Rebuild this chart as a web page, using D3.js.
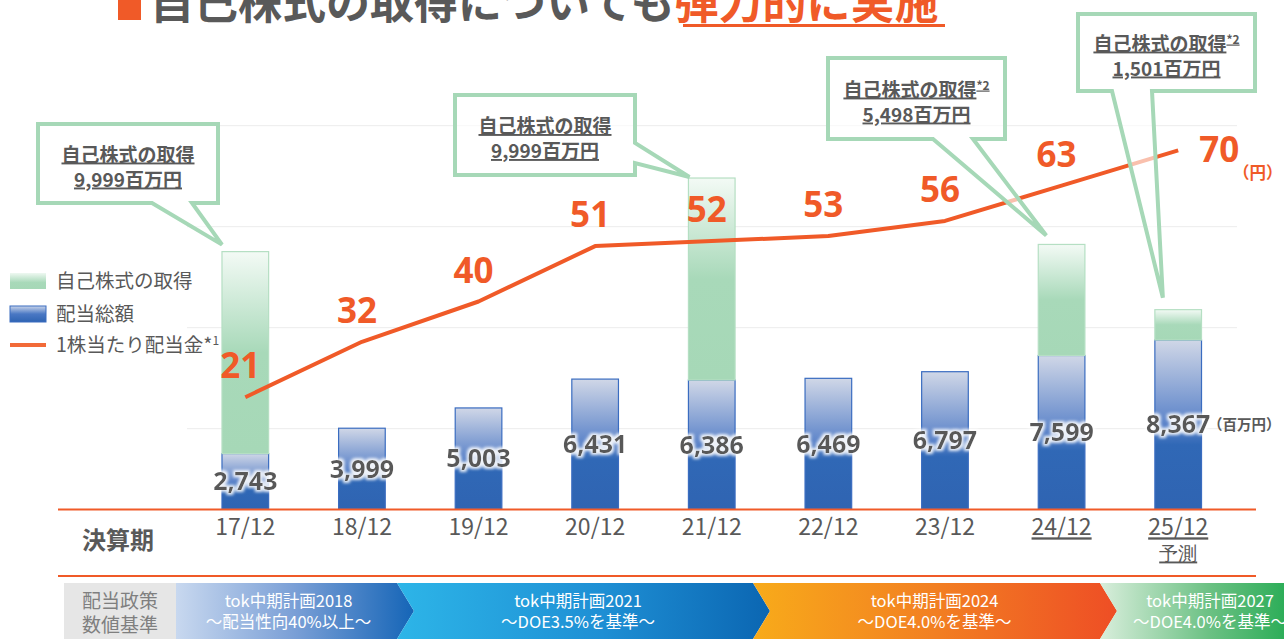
<!DOCTYPE html>
<html>
<head>
<meta charset="utf-8">
<script src="https://cdn.jsdelivr.net/npm/d3@7"></script>
<style>
  body { margin: 0; background: #fff; }
  svg { display: block; font-family: "Noto Sans CJK JP", "Noto Sans", sans-serif; }
</style>
</head>
<body>
<svg id="chart" width="1284" height="639"></svg>
<script>
// data
const categories = ['17/12', '18/12', '19/12', '20/12', '21/12', '22/12', '23/12', '24/12', '25/12'];
const dividendTotal = [2743, 3999, 5003, 6431, 6386, 6469, 6797, 7599, 8367];
const buyback = [9999, 0, 0, 0, 9999, 0, 0, 5498, 1501];
const dps = [21, 32, 40, 51, 52, 53, 56, 63, 70];
const gridValues = [4000, 9000, 14000, 19000];
const planNames = ['tok中期計画2018', 'tok中期計画2021', 'tok中期計画2024', 'tok中期計画2027'];
const planTargets = ['～配当性向40%以上～', '～DOE3.5%を基準～', '～DOE4.0%を基準～', '～DOE4.0%を基準～'];

const GREY = '#595959', ORANGE = '#f05a28', GREEN = '#a6d8b7';

const svg = d3.select('#chart');
const defs = svg.append('defs');

function grad(id, stops, horizontal) {
    const g = defs.append('linearGradient').attr('id', id)
        .attr('x1', 0).attr('y1', 0).attr('x2', horizontal ? 1 : 0).attr('y2', horizontal ? 0 : 1);
    stops.forEach(s => g.append('stop').attr('offset', s[0]).attr('stop-color', s[1]));
}
grad('gBlue', [[0, '#d0d7e7'], [0.5, '#5b83c9'], [0.62, '#3068b6'], [1, '#2f64b2']]);
grad('gGreen', [[0, '#f3faf5'], [0.5, '#a8d9b9'], [1, '#a6d8b7']]);
grad('gLegBlue', [[0, '#c9d4ea'], [0.5, '#4a78c4'], [1, '#2f64b2']]);
grad('gLegGreen', [[0, '#eef8f1'], [0.6, '#a8d9b9'], [1, '#a6d8b7']]);
grad('p1', [[0, '#c8d8ef'], [0.5, '#7a9fd6'], [1, '#1565b7']], true);
grad('p2', [[0, '#2db5e8'], [0.55, '#1e8fd4'], [1, '#0b66b2']], true);
grad('p3', [[0, '#f8ab1a'], [0.5, '#f27f22'], [1, '#ee4e25']], true);
grad('p4', [[0, '#d9eedc'], [0.5, '#6cc184'], [1, '#12a546']], true);

const glow = defs.append('filter').attr('id', 'glow').attr('x', '-20%').attr('y', '-40%').attr('width', '140%').attr('height', '180%');
glow.append('feMorphology').attr('in', 'SourceAlpha').attr('operator', 'dilate').attr('radius', 2).attr('result', 'd');
glow.append('feGaussianBlur').attr('in', 'd').attr('stdDeviation', 1.6).attr('result', 'b');
glow.append('feFlood').attr('flood-color', '#fff').attr('flood-opacity', 0.9);
glow.append('feComposite').attr('in2', 'b').attr('operator', 'in').attr('result', 'w');
const mg = glow.append('feMerge');
mg.append('feMergeNode').attr('in', 'w');
mg.append('feMergeNode').attr('in', 'SourceGraphic');

// scales
const x = d3.scaleBand().domain(categories).range([187, 1236.5]).paddingInner(0.6).paddingOuter(0.3);
const yBar = d3.scaleLinear().domain([0, 20000]).range([509, 105]);
const yLine = d3.scaleLinear().domain([0, 80]).range([503, 100]);

// title (cut at top, as on the slide)
svg.append('rect').attr('x', 118).attr('y', -4).attr('width', 23).attr('height', 24).attr('fill', ORANGE);
const title = svg.append('text').attr('x', 150).attr('y', 19)
    .attr('font-size', 44).attr('font-weight', 700);
title.append('tspan').attr('fill', GREY).text('自己株式の取得についても');
title.append('tspan').attr('fill', ORANGE).text('弾力的に実施');
svg.append('rect').attr('x', 683).attr('y', 24).attr('width', 262).attr('height', 3).attr('fill', ORANGE);

// grid
svg.append('g').selectAll('line').data(gridValues).enter().append('line')
    .attr('x1', 187).attr('x2', 1237)
    .attr('y1', d => yBar(d) + 0.5).attr('y2', d => yBar(d) + 0.5)
    .attr('stroke', '#ececec').attr('stroke-width', 1);

// bars
const bars = svg.append('g');
bars.selectAll('.div').data(categories).enter().append('rect')
    .attr('x', d => x(d)).attr('width', x.bandwidth())
    .attr('y', (d, i) => yBar(dividendTotal[i]))
    .attr('height', (d, i) => yBar(0) - yBar(dividendTotal[i]))
    .attr('fill', 'url(#gBlue)').attr('stroke', '#3a6cc0').attr('stroke-width', 1.2);
bars.selectAll('.bb').data(categories.filter((d, i) => buyback[i] > 0)).enter().append('rect')
    .attr('x', d => x(d)).attr('width', x.bandwidth())
    .attr('y', d => { const i = categories.indexOf(d); return yBar(dividendTotal[i] + buyback[i]); })
    .attr('height', d => { const i = categories.indexOf(d); return yBar(dividendTotal[i]) - yBar(dividendTotal[i] + buyback[i]); })
    .attr('fill', 'url(#gGreen)').attr('stroke', '#b5dfc3').attr('stroke-width', 1.2);

// x axis
svg.append('line').attr('x1', 58).attr('x2', 1256).attr('y1', 509.5).attr('y2', 509.5)
    .attr('stroke', ORANGE).attr('stroke-width', 2);
svg.append('line').attr('x1', 58).attr('x2', 1256).attr('y1', 576).attr('y2', 576)
    .attr('stroke', ORANGE).attr('stroke-width', 2);

const xAxis = svg.append('g').attr('transform', 'translate(0,510)')
    .call(d3.axisBottom(x).tickSize(0).tickPadding(9));
xAxis.select('.domain').remove();
xAxis.selectAll('text')
    .attr('font-family', '"Noto Sans CJK JP", sans-serif')
    .attr('font-size', 23).attr('fill', GREY)
    .attr('text-decoration', d => (d === '24/12' || d === '25/12') ? 'underline' : null);
xAxis.selectAll('.tick').filter(d => d === '25/12').append('text')
    .attr('y', 37).attr('dy', '0.71em').attr('text-anchor', 'middle')
    .attr('font-size', 19).attr('fill', GREY).attr('text-decoration', 'underline')
    .text('予測');
svg.append('text').attr('x', 82).attr('y', 549).attr('font-size', 24).attr('font-weight', 700)
    .attr('fill', GREY).text('決算期');

// dividend per share line
const line = d3.line().x((d, i) => x(categories[i]) + x.bandwidth() / 2).y(d => yLine(d));
svg.append('path').datum(dps).attr('d', line)
    .attr('fill', 'none').attr('stroke', ORANGE).attr('stroke-width', 4).attr('stroke-linejoin', 'round');

// callouts
const callouts = [
    { i: 0, star: false, box: [38, 124, 180, 79], side: 'bottom', base: [152, 192], tip: [0, -7] },
    { i: 4, star: false, box: [455, 95, 180, 80], side: 'right', base: [143, 163], tip: [1, -1] },
    { i: 7, star: true, box: [828, 58, 177, 81], side: 'bottom', base: [933, 973], tip: [8, -9] },
    { i: 8, star: true, box: [1078, 14, 177, 77], side: 'bottom', base: [1112, 1152], tip: [8, -12] }
];
const fmt = d3.format(',');
const cg = svg.append('g');
callouts.forEach(c => {
    const cat = categories[c.i];
    const tx = x(cat) + c.tip[0];
    const ty = yBar(dividendTotal[c.i] + buyback[c.i]) + c.tip[1];
    const [bx, by, bw, bh] = c.box;
    let p;
    if (c.side === 'bottom') {
        p = `M${bx},${by}H${bx + bw}V${by + bh}H${c.base[1]}L${tx},${ty}L${c.base[0]},${by + bh}H${bx}Z`;
    } else {
        p = `M${bx},${by}H${bx + bw}V${c.base[0]}L${tx},${ty}L${bx + bw},${c.base[1]}V${by + bh}H${bx}Z`;
    }
    cg.append('path').attr('d', p).attr('fill', '#fff').attr('fill-opacity', 0.62)
        .attr('stroke', GREEN).attr('stroke-width', 4).attr('stroke-linejoin', 'miter');
    const cx = bx + bw / 2;
    const t1 = cg.append('text').attr('x', cx).attr('y', by + bh / 2 - 2).attr('text-anchor', 'middle')
        .attr('font-size', 19).attr('font-weight', 700).attr('fill', GREY).attr('text-decoration', 'underline');
    t1.append('tspan').text('自己株式の取得');
    if (c.star) t1.append('tspan').attr('font-size', 12).attr('dy', -7).text('*2');
    cg.append('text').attr('x', cx).attr('y', by + bh / 2 + 23).attr('text-anchor', 'middle')
        .attr('font-size', 19).attr('font-weight', 700).attr('fill', GREY).attr('text-decoration', 'underline')
        .text(fmt(buyback[c.i]) + '百万円');
});

// bar value labels
svg.append('g').selectAll('text').data(categories).enter().append('text')
    .attr('x', d => x(d) + x.bandwidth() / 2)
    .attr('y', (d, i) => (yBar(0) + yBar(dividendTotal[i])) / 2)
    .attr('dy', '0.36em').attr('text-anchor', 'middle')
    .attr('font-family', '"Noto Sans", sans-serif').attr('font-weight', 700).attr('font-size', 25)
    .attr('fill', GREY).attr('filter', 'url(#glow)')
    .text((d, i) => fmt(dividendTotal[i]));
svg.append('text').attr('x', 1208).attr('y', 430).attr('font-size', 14.5).attr('font-weight', 700)
    .attr('fill', GREY).text('（百万円）');

// dps labels
svg.append('g').selectAll('text').data(dps).enter().append('text')
    .attr('x', (d, i) => x(categories[i]) + x.bandwidth() / 2 + (i === dps.length - 1 ? 21 : -5))
    .attr('y', (d, i) => yLine(d) + (i === dps.length - 1 ? 12 : -19))
    .attr('text-anchor', (d, i) => i === dps.length - 1 ? 'start' : 'middle')
    .attr('font-family', '"Noto Sans", sans-serif').attr('font-weight', 700).attr('font-size', 35)
    .attr('fill', ORANGE).text(d => d);
svg.append('text').attr('x', 1233).attr('y', 179).attr('font-size', 16.5).attr('font-weight', 700)
    .attr('fill', ORANGE).text('（円）');

// legend
const leg = svg.append('g').attr('font-size', 19.5).attr('fill', GREY);
leg.append('rect').attr('x', 10).attr('y', 273).attr('width', 36).attr('height', 16).attr('fill', 'url(#gLegGreen)');
leg.append('text').attr('x', 56).attr('y', 288).text('自己株式の取得');
leg.append('rect').attr('x', 10).attr('y', 306).attr('width', 36).attr('height', 16)
    .attr('fill', 'url(#gLegBlue)').attr('stroke', '#3a6cc0').attr('stroke-width', 1);
leg.append('text').attr('x', 56).attr('y', 321).text('配当総額');
leg.append('line').attr('x1', 10).attr('x2', 46).attr('y1', 345).attr('y2', 345)
    .attr('stroke', '#f26a38').attr('stroke-width', 4);
const lt = leg.append('text').attr('x', 56).attr('y', 352);
lt.append('tspan').text('1株当たり配当金*');
lt.append('tspan').attr('font-size', 12).attr('dy', -7).text('1');

// policy band
const band = svg.append('g');
band.append('rect').attr('x', 64).attr('y', 583).attr('width', 112).attr('height', 56).attr('fill', '#e6e6e6');
band.append('text').attr('x', 120).attr('y', 608).attr('text-anchor', 'middle').attr('font-size', 19)
    .attr('fill', '#7f7f7f').text('配当政策');
band.append('text').attr('x', 120).attr('y', 632).attr('text-anchor', 'middle').attr('font-size', 19)
    .attr('fill', '#7f7f7f').text('数値基準');
const segEdges = [176, 397, 753, 1100, 1300];
const textShift = [2, 3, 8, 0];
const tipW = 17, bandTop = 583, bandBot = 639, bandMid = 611;
planNames.forEach((name, k) => {
    const x0 = segEdges[k], x1 = segEdges[k + 1];
    const p = `M${x0},${bandTop}H${x1}L${x1 + tipW},${bandMid}L${x1},${bandBot}H${x0}${k === 0 ? '' : `L${x0 + tipW},${bandMid}`}Z`;
    band.append('path').attr('d', p).attr('fill', `url(#p${k + 1})`);
    const cx = k === 3 ? 1210 : (x0 + x1) / 2 + textShift[k];
    band.append('text').attr('x', cx).attr('y', 607).attr('text-anchor', 'middle')
        .attr('font-size', 16.5).attr('fill', '#fff').text(name);
    band.append('text').attr('x', cx).attr('y', 628).attr('text-anchor', 'middle')
        .attr('font-size', 16.5).attr('fill', '#fff').text(planTargets[k]);
});
</script>
</body>
</html>
